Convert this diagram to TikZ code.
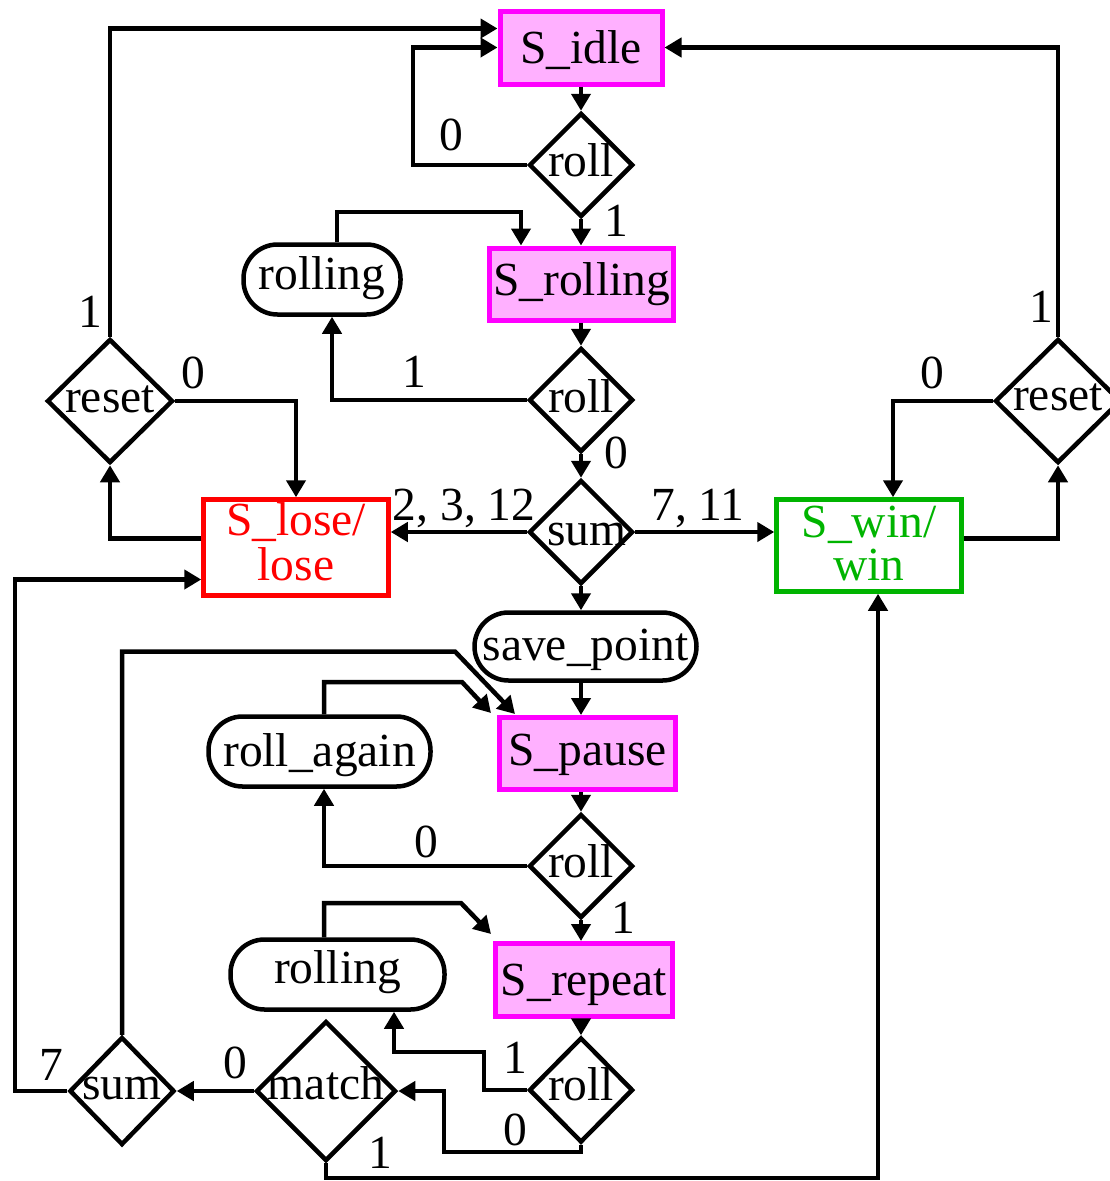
\documentclass[tikz,border=0pt]{standalone}
\usepackage{fontspec}
\setmainfont{Liberation Serif}
\usetikzlibrary{shapes.geometric,arrows.meta}
\definecolor{pinkfill}{RGB}{255,176,255}
\definecolor{magentab}{RGB}{255,0,255}
\definecolor{wingreen}{RGB}{0,180,0}
\newcommand\ctext[2][-12pt]{\makebox[0pt]{\raisebox{#1}[0pt][0pt]{#2}}}
\newcommand\ctwo[3][-33pt]{\makebox[0pt]{\raisebox{#1}[0pt][0pt]{\begin{tabular}[b]{@{}c@{}}#2\\#3\end{tabular}}}}
\tikzset{
  every node/.style={font=\fontsize{47.5}{40}\selectfont, inner sep=0pt},
  statebox/.style={rectangle, draw=magentab, fill=pinkfill, line width=5pt},
  pill/.style={rectangle, draw, rounded corners=34pt, line width=4.5pt},
  dec/.style={diamond, draw, line width=4.5pt},
  conn/.style={line width=4.5pt, -{Triangle[length=17pt,width=19pt]}},
  lab/.style={anchor=base},
}
\begin{document}
\begin{tikzpicture}[x=1pt,y=-1pt]
\useasboundingbox (0,0) rectangle (1109,1181);
% state boxes
\node[statebox, minimum width=162pt, minimum height=73pt] (idle) at (581,47.5) {\ctext[-16pt]{S\_idle}};
\node[statebox, minimum width=184pt, minimum height=72pt] (srol) at (581.5,284) {\ctext[-11pt]{S\_rolling}};
\node[statebox, minimum width=176pt, minimum height=72pt] (pause) at (587.5,753.5) {\ctext[-12pt]{S\_pause}};
\node[statebox, minimum width=177pt, minimum height=73pt] (rep) at (584,980) {\ctext[-15pt]{S\_repeat}};
\node[rectangle, draw=red, line width=4.5pt, text=red, minimum width=185pt, minimum height=96pt] (lose) at (296,547.5) {\ctwo{S\_lose/}{lose}};
\node[rectangle, draw=wingreen, line width=4.5pt, text=wingreen, minimum width=185pt, minimum height=92pt] (win) at (869,545.5) {\ctwo[-35pt]{S\_win/}{win}};
% pills
\node[pill, minimum width=157pt, minimum height=70pt] (rol1) at (322,279.5) {\ctext[-10pt]{rolling}};
\node[pill, minimum width=222pt, minimum height=68pt] (save) at (585.5,646.5) {\ctext[-14pt]{save\_point}};
\node[pill, minimum width=222pt, minimum height=70pt] (ra) at (319.5,751.5) {\ctext[-15pt]{roll\_again}};
\node[pill, minimum width=214pt, minimum height=70pt] (rol2) at (337.5,974.5) {\ctext[-9pt]{rolling}};
% decisions
\node[dec, minimum width=104pt, minimum height=104pt] (r1) at (581,165) {\ctext[-11pt]{roll}};
\node[dec, minimum width=104pt, minimum height=104pt] (r2) at (581,400) {\ctext[-12pt]{roll}};
\node[dec, minimum width=104pt, minimum height=104pt] (s1) at (581,532) {\ctext[-13pt]{\hspace{12pt}sum}};
\node[dec, minimum width=104pt, minimum height=104pt] (r3) at (581,866) {\ctext[-11pt]{roll}};
\node[dec, minimum width=104pt, minimum height=105pt] (r4) at (581,1090) {\ctext[-10pt]{roll}};
\node[dec, minimum width=140pt, minimum height=140pt] (m) at (326,1091) {\ctext[-8pt]{match}};
\node[dec, minimum width=105pt, minimum height=108pt] (s2) at (122,1091) {\ctext[-8pt]{sum}};
\node[dec, minimum width=126pt, minimum height=124pt] (rl) at (110,401) {\ctext[-11pt]{reset}};
\node[dec, minimum width=126pt, minimum height=124pt] (rr) at (1058,401) {\ctext[-9pt]{reset}};
% connectors
\draw[conn] (idle.south) -- (r1.north);
\draw[conn] (r1.west) -| (413,47.5) -- (idle.west);
\draw[conn] (rl.north) |- ([yshift=19pt]idle.west);
\draw[conn] (rr.north) |- (idle.east);
\draw[conn] (r1.south) -- (r1.south |- srol.north);
\draw[conn] ([xshift=15pt]rol1.north) |- (521,212) -- ([xshift=-60.5pt]srol.north);
\draw[conn] (r2.north |- srol.south) -- (r2.north);
\draw[conn] (r2.west) -| ([xshift=10pt]rol1.south);
\draw[conn] (r2.south) -- (s1.north);
\draw[conn] (s1.west) -- (s1.west -| lose.east);
\draw[conn] (s1.east) -- (s1.east -| win.west);
\draw[conn] ([yshift=9pt]lose.west) -| (rl.south);
\draw[conn] (rl.east) -| (lose.north);
\draw[conn] ([yshift=7pt]win.east) -| (rr.south);
\draw[conn] (rr.west) -| ([xshift=24pt]win.north);
\draw[conn] (s1.south) -- (s1.south |- save.north);
\draw[conn] (s1.south |- save.south) -- (s1.south |- pause.north);
\draw[conn] (r3.north |- pause.south) -- (r3.north);
\draw[conn] ([xshift=4.5pt]ra.north) |- (462,682) -- ([xshift=-6pt,yshift=2pt]pause.north west);
\draw[conn] (s2.north) |- (455,651.5) -- ([xshift=18pt,yshift=1pt]pause.north west);
\draw[conn] (r3.west) -| ([xshift=4.5pt]ra.south);
\draw[conn] (r3.south) -- (r3.south |- rep.north);
\draw[conn] ([xshift=-13.5pt]rol2.north) |- (461,903) -- ([xshift=-2pt,yshift=7pt]rep.north west);
\draw[conn] (r4.north |- rep.south) -- (r4.north);
\draw[conn] (r4.west) -| (484,1052) -| ([xshift=56.5pt]rol2.south);
\draw[conn] (r4.south) |- (444,1152) |- (m.east);
\draw[conn] (m.west) -- (s2.east);
\draw[conn] (m.south) |- (878,1178) -- ([xshift=9pt]win.south);
\draw[conn] (s2.west) -| (15,579.5) -- ([yshift=-32pt]lose.west);
% labels
\node[lab] (t1) at (451,150) {0};
\node[lab] (t2) at (616,236) {1};
\node[lab] (t3) at (90,327) {1};
\node[lab] (t4) at (193,388) {0};
\node[lab] (t5) at (414,387) {1};
\node[lab] (t6) at (616,468) {0};
\node[lab] (t7) at (464,520) {2, 3, 12};
\node[lab] (t8) at (698,520) {7, 11};
\node[lab] (t9) at (932,388) {0};
\node[lab] (t10) at (1041,322) {1};
\node[lab] (t11) at (426,857) {0};
\node[lab] (t12) at (623,933) {1};
\node[lab] (t13) at (515,1073) {1};
\node[lab] (t14) at (515,1145) {0};
\node[lab] (t15) at (235,1078) {0};
\node[lab] (t16) at (51,1080) {7};
\node[lab] (t17) at (380,1168) {1};
\end{tikzpicture}
\end{document}
